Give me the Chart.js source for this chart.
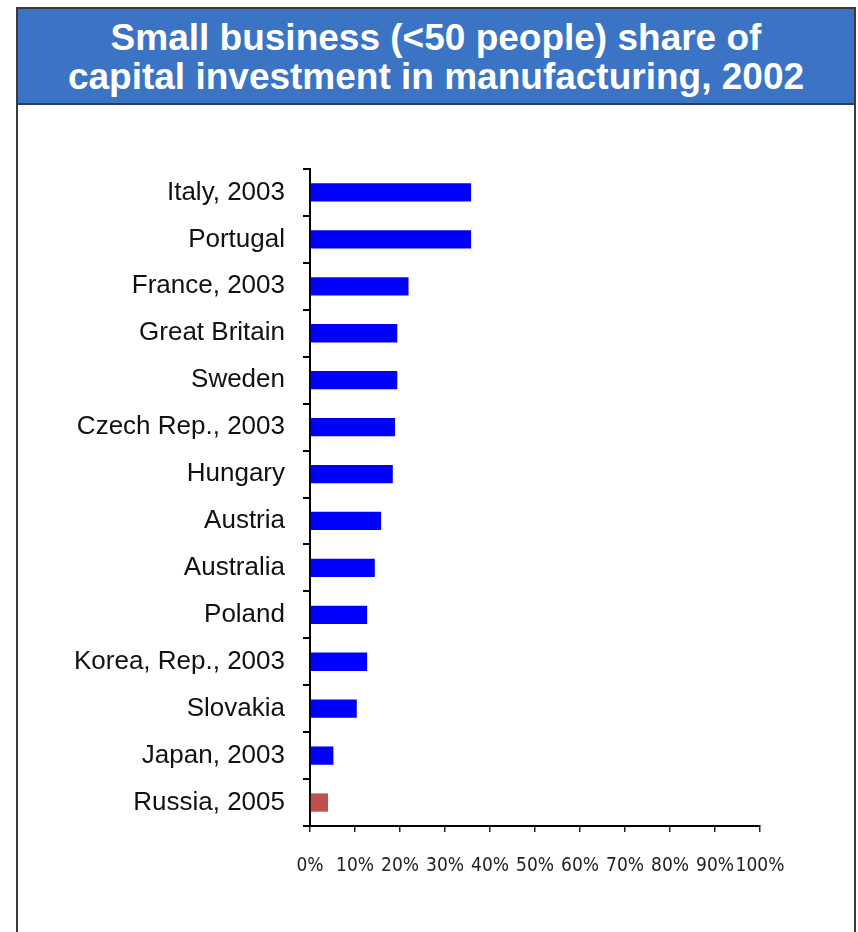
<!DOCTYPE html>
<html>
<head>
<meta charset="utf-8">
<script src="https://cdn.jsdelivr.net/npm/chart.js@4.4.0/dist/chart.umd.min.js"></script>
<style>
    html, body { margin: 0; padding: 0; background: #fff; }
    body { width: 858px; height: 932px; position: relative; overflow: hidden; }
    #frame {
        position: absolute; left: 16px; top: 7px; width: 840px; height: 940px;
        border: 2px solid #3a3a3a; box-sizing: border-box; pointer-events: none;
    }
    #title {
        position: absolute; left: 0; top: 0; right: 0; height: 96px;
        background: #3b74c4; border-bottom: 2px solid #2d3e5c;
        color: #fff; font-family: "Liberation Sans", Arial, sans-serif; font-weight: bold;
        font-size: 37px; line-height: 39px; text-align: center; padding-top: 9px; box-sizing: border-box;
    }
    #chart { position: absolute; left: 0; top: 0; }
</style>
</head>
<body>
<canvas id="chart" width="858" height="932"></canvas>
<div id="frame"><div id="title">Small business (&lt;50 people) share of<br>capital investment in manufacturing, 2002</div></div>
<script>
// values (share of capital investment, %)
const countries = ['Italy, 2003', 'Portugal', 'France, 2003', 'Great Britain', 'Sweden', 'Czech Rep., 2003',
    'Hungary', 'Austria', 'Australia', 'Poland', 'Korea, Rep., 2003', 'Slovakia', 'Japan, 2003', 'Russia, 2005'];
const shares = [35.8, 35.8, 21.9, 19.4, 19.4, 18.9, 18.4, 15.8, 14.4, 12.7, 12.7, 10.4, 5.2, 4.0];
const barColors = countries.map(c => c.startsWith('Russia') ? '#c0504d' : '#0000ff');

var config = {
    type: 'bar',
    data: {
        labels: countries,
        datasets: [{
            data: shares,
            backgroundColor: barColors,
            borderWidth: 0,
            barPercentage: 0.39,
            categoryPercentage: 1
        }]
    },
    options: {
        indexAxis: 'y',
        responsive: false,
        animation: false,
        layout: { padding: { left: 0, right: 98, top: 169, bottom: 46 } },
        plugins: { legend: { display: false }, tooltip: { enabled: false } },
        scales: {
            y: {
                afterFit(scale) { scale.width = 310; },
                grid: { offset: true, drawOnChartArea: false, drawTicks: true, tickLength: 7, color: '#000', lineWidth: 2 },
                border: { color: '#000', width: 2 },
                ticks: {
                    padding: 18,
                    color: '#111',
                    font: { family: '"Liberation Sans", Arial, sans-serif', size: 26 }
                }
            },
            x: {
                min: 0,
                max: 100,
                afterFit(scale) { scale.height = 60; },
                grid: { drawOnChartArea: false, drawTicks: true, tickLength: 6, color: '#222', lineWidth: 1.5 },
                border: { color: '#000', width: 2 },
                ticks: {
                    stepSize: 10,
                    padding: 23,
                    maxRotation: 0,
                    autoSkip: false,
                    color: '#222',
                    font: { family: '"Liberation Sans Narrow", "DejaVu Sans Condensed", sans-serif', size: 19 },
                    callback: v => v + '%'
                }
            }
        }
    }
};

new Chart(document.getElementById('chart'), config);
</script>
</body>
</html>
